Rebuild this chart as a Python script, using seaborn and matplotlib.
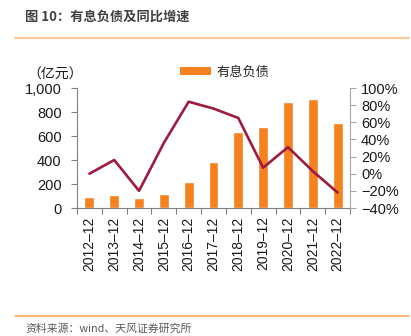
import numpy as np
import pandas as pd
import seaborn as sns
import matplotlib
matplotlib.use("Agg")
import matplotlib.pyplot as plt
from matplotlib.patches import Patch
from matplotlib.lines import Line2D
from matplotlib.ticker import FixedLocator, FuncFormatter

# Interest-bearing debt (100 million yuan) and its year-over-year growth (%)
years = ["2012-12", "2013-12", "2014-12", "2015-12", "2016-12", "2017-12",
         "2018-12", "2019-12", "2020-12", "2021-12", "2022-12"]
debt = [92, 108, 86, 117, 217, 383, 633, 678, 886, 911, 711]
growth = [0, 16, -20, 36, 84, 76, 65, 7, 31, 3, -22]

tick_labels = [y.replace("-", "\u2013") for y in years]
left_ticks = [0, 200, 400, 600, 800, 1000]
right_ticks = [-40, -20, 0, 20, 40, 60, 80, 100]

sns.set_theme(style="white")
plt.rcParams["font.family"] = ["Liberation Sans", "Noto Sans CJK SC"]
plt.rcParams["axes.unicode_minus"] = True

df = pd.DataFrame({"year": years, "debt": debt, "growth": growth,
                   "pos": np.arange(len(years))})

BAR = "#F5821F"
LINE = "#9E1B3F"
TXT = "#1A1A1A"

fig = plt.figure(figsize=(4.11, 3.36), dpi=100)
ax = fig.add_axes([77 / 411, 1 - 208 / 336, 273 / 411, 120 / 336])

sns.barplot(data=df, x="year", y="debt", color=BAR, width=0.4,
            saturation=1, ax=ax)
ax.set_xlim(-0.5, len(years) - 0.5)
ax.set_ylim(0, 1000)
ax.set_xlabel("")
ax.set_ylabel("")
ax.yaxis.set_major_locator(FixedLocator(left_ticks))
ax.yaxis.set_major_formatter(FuncFormatter(lambda v, p: f"{int(v):,}"))
ax.set_xticks(df["pos"])
ax.set_xticklabels(tick_labels, rotation=90, fontsize=10, color=TXT)
ax.set_xticks(np.arange(len(years) + 1) - 0.5, minor=True)
ax.tick_params(axis="x", which="major", length=0, pad=6)
ax.tick_params(axis="x", which="minor", length=4, width=0.8,
               color="#808080", direction="out", bottom=True)
ax.tick_params(axis="y", length=4, width=0.8, color="#808080",
               direction="out", left=True, labelsize=10.5,
               labelcolor=TXT, pad=7)
for s in ["top", "right"]:
    ax.spines[s].set_visible(False)
for s in ["left", "bottom"]:
    ax.spines[s].set_color("#808080")
    ax.spines[s].set_linewidth(0.8)

ax2 = ax.twinx()
sns.lineplot(data=df, x="pos", y="growth", color=LINE, linewidth=1.9,
             ax=ax2, legend=False)
ax2.set_ylim(-40, 100)
ax2.set_xlim(-0.5, len(years) - 0.5)
ax2.set_ylabel("")
ax2.set_xlabel("")
ax2.yaxis.set_major_locator(FixedLocator(right_ticks))
ax2.yaxis.set_major_formatter(
    FuncFormatter(lambda v, p: f"{int(v)}%".replace("-", "\u2212")))
ax2.tick_params(axis="y", length=4, width=0.8, color="#A6A6A6",
                direction="out", right=True, labelsize=10.5,
                labelcolor=TXT, pad=4)
for s in ["top", "left", "bottom"]:
    ax2.spines[s].set_visible(False)
ax2.spines["right"].set_color("#A6A6A6")
ax2.spines["right"].set_linewidth(0.8)

# Unit label and legend
fig.text(55 / 411, 1 - 75 / 336, "（亿元）", ha="center", va="center",
         fontsize=10, color=TXT, family=["Noto Sans CJK SC"])
fig.legend(handles=[Patch(facecolor=BAR, edgecolor="none", label="有息负债")],
           loc="center left", bbox_to_anchor=(180 / 411, 1 - 72 / 336),
           frameon=False, fontsize=9.5, handlelength=2.35,
           handleheight=0.55, handletextpad=0.4, borderpad=0,
           borderaxespad=0, prop={"family": ["Noto Sans CJK SC"], "size": 9.5})

# Title, rules and source note
fig.text(25 / 411, 1 - 17 / 336, "图 10：有息负债及同比增速", ha="left",
         va="center", fontsize=9.5, color="#404040", fontweight="bold",
         family=["Noto Sans CJK SC", "Liberation Sans"])
fig.add_artist(Line2D([15 / 411, 409 / 411], [1 - 38 / 336, 1 - 38 / 336],
                      color="#FBC99B", linewidth=1.6))
fig.add_artist(Line2D([15 / 411, 409 / 411], [1 - 316 / 336, 1 - 316 / 336],
                      color="#F7A24B", linewidth=1.1))
fig.text(25 / 411, 1 - 329 / 336, "资料来源：wind、天风证券研究所", ha="left",
         va="center", fontsize=7.8, color="#595959",
         family=["Noto Sans CJK SC", "Liberation Sans"])

fig.savefig("out.png", dpi=100)
